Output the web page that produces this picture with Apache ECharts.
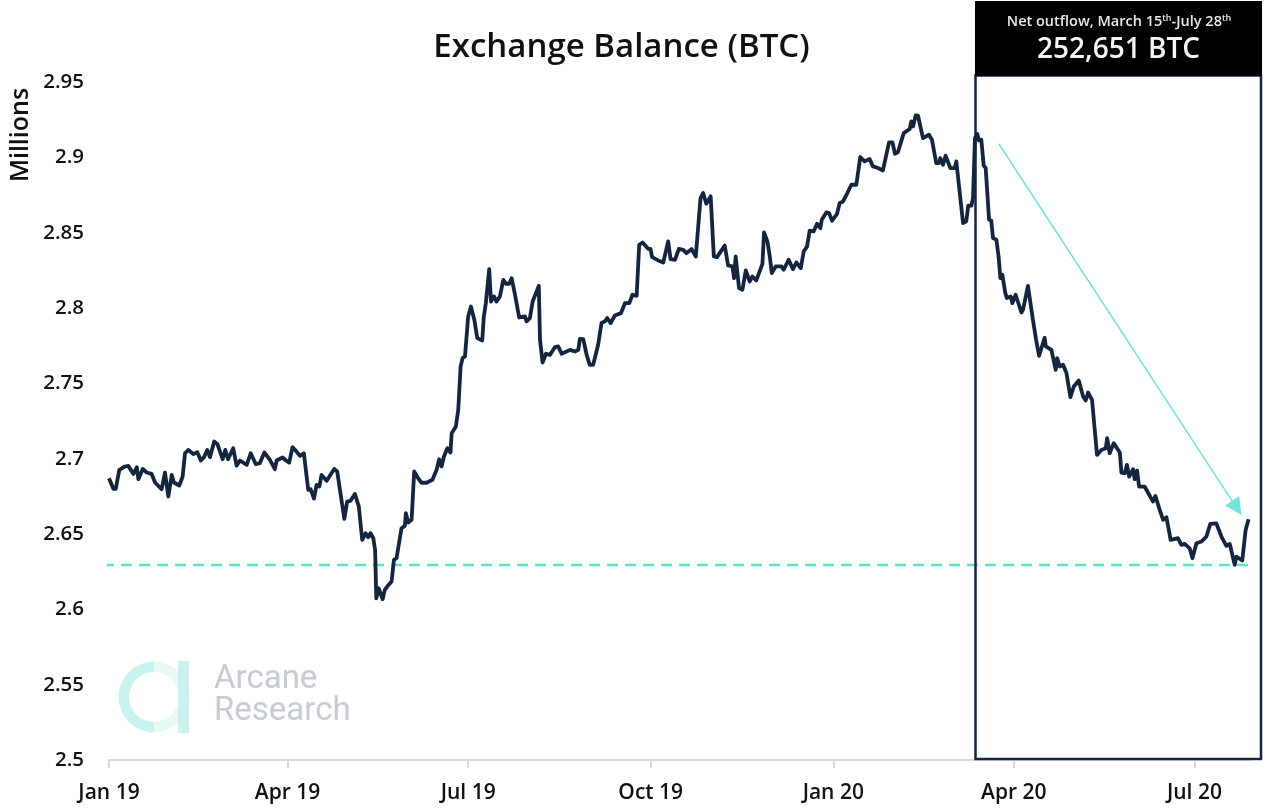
<!DOCTYPE html>
<html>
<head>
<meta charset="utf-8">
<style>html,body{margin:0;padding:0;background:#fff}#c{width:1265px;height:808px}</style>
<script src="https://cdn.jsdelivr.net/npm/echarts@6/dist/echarts.min.js"></script>
</head>
<body>
<div id="c"></div>
<script>
// days since 1 Jan 2019
const dayOffsets = [0,2.2,3.4,5.2,8,9.7,12.3,14,14.8,17,19,21.5,23.2,26.5,28.2,29.9,31.6,32.7,35.4,37.1,38.3,40,42.5,44.5,46.3,47.9,49.5,50.9,53,54.6,57.3,58.6,60,62.6,64.3,66,69.4,71.4,74,76,78.3,81.1,83.6,84.5,87.5,89.2,90.8,92.5,94.5,96.2,98.2,100.4,101.6,103.3,104.6,106,107.1,109.7,111.3,113.5,115,118.6,120,121.7,123.9,125.9,127.6,129.3,130.6,131.8,133.2,134.1,134.7,135.9,137.9,139,140.2,142.4,143.6,144.9,147.4,149.1,149.6,150.8,152.5,153.8,155.8,157.5,160,163,
165.1,166.4,167.6,168.8,170.5,172.1,172.7,174.8,176,177.2,178.2,179.4,181,182.4,184.1,185.6,188.1,188.9,189.9,191.6,192.5,194,195.3,197,198.7,200,201.7,202.9,204.6,206.7,209.6,210.4,212.1,213.5,216.6,217.2,218.5,220.2,222.2,224.7,226.4,228.1,230.6,232.3,234.8,236.5,237.3,239,240.7,242.3,244,246.5,248.2,249.9,251.1,252.8,254.9,258,260,262.2,263.8,265.9,267.2,268.9,271.7,272.9,273.7,276.8,279.3,281.8,283,285.2,287.2,289.4,291,293.6,295.7,298.1,299.4,301,303.2,304.8,306.4,
310.3,312,314.2,315,315.8,317.5,319.2,320.9,322.9,324.2,326.2,329.3,330.1,331.8,333,334,336,338.8,340,342.5,344.7,346.4,348.6,350.1,351.8,353.1,355.1,356.8,358.5,359.2,361.5,362.9,364.4,366.9,368.2,369.9,372.1,374.1,376.6,378.6,380.8,383.3,385,387.5,390,393.1,394.8,396.1,397.6,400.5,403.5,404.3,405.2,406.5,407.7,410.2,413.2,414.7,416.9,418.3,418.9,420.3,421.6,424,426.2,427,430.4,432,433,434.6,435.4,436.4,437.6,438.4,439.6,440.8,441.8,443.5,444.6,445.5,447.2,448.3,
449.2,450.2,451.7,452.5,454.4,455.2,456.9,459.8,460.6,463.1,465.6,467.2,468.7,471.5,472.1,474.9,477.1,477.8,479.1,480.8,482.5,484.5,486.2,488.7,490.9,492.2,493.4,495.4,497.9,500.1,502.3,503,504.3,506.3,509.4,510.2,511.9,513,514.1,516.1,516.9,518.1,519.1,521.9,526.1,527.3,529.5,531.2,532.9,535,538.7,540.4,542.1,544.6,546,548,550.5,553,555,558,560.6,563.1,564.8,567.3,568.1,571.1,572.8,574.3];
// exchange balance, millions of BTC
const balance = [2.687,2.680,2.680,2.6926,2.6948,2.6952,2.6899,2.6943,2.6864,2.6932,2.6908,2.6899,2.6842,2.6797,2.6908,2.6749,2.6892,2.6842,2.6822,2.6881,2.7036,2.7058,2.703,2.7043,2.6988,2.701,2.7058,2.701,2.7114,2.7098,2.6996,2.7058,2.6996,2.7069,2.6954,2.6988,2.6959,2.7036,2.6963,2.697,2.7041,2.6992,2.693,2.6988,2.7008,2.6988,2.6974,2.7076,2.7047,2.7019,2.7036,2.6793,2.6797,2.6735,2.6826,2.6815,2.6892,2.6853,2.6886,2.6932,2.6915,2.66,2.6715,2.672,2.6766,2.6682,2.6461,2.6505,2.6479,2.6505,2.6472,2.6394,2.6073,2.614,2.6067,2.6129,2.6151,2.6184,2.6328,2.6339,2.6538,2.6554,2.6638,2.6576,2.6594,2.6915,2.687,2.684,2.684,2.686,
2.6926,2.6996,2.6948,2.7014,2.7069,2.7041,2.7169,2.7213,2.7324,2.7612,2.7667,2.7678,2.7944,2.801,2.7922,2.78,2.7784,2.7944,2.8032,2.8258,2.8043,2.8077,2.8043,2.8077,2.8187,2.8161,2.8161,2.8198,2.8088,2.7937,2.7944,2.7911,2.7933,2.8043,2.8147,2.7789,2.7638,2.7696,2.7689,2.774,2.7745,2.7696,2.7711,2.7722,2.7711,2.7722,2.7795,2.7793,2.7689,2.7623,2.7623,2.7756,2.79,2.7911,2.7933,2.79,2.795,2.7966,2.8032,2.8032,2.8088,2.8081,2.842,2.8435,2.8393,2.8393,2.8338,2.8316,2.8302,2.8442,2.8324,2.832,2.8393,2.8386,2.8364,2.8391,2.8342,2.873,2.8763,2.8692,2.8741,2.8342,2.8338,
2.8415,2.8282,2.8276,2.8198,2.8342,2.8132,2.8121,2.8249,2.8176,2.8209,2.8183,2.8293,2.8502,2.8442,2.8342,2.8232,2.8276,2.8276,2.8254,2.832,2.8258,2.8302,2.8265,2.8375,2.8409,2.8513,2.8508,2.8559,2.853,2.8586,2.8634,2.863,2.8579,2.8625,2.8696,2.8707,2.8763,2.8818,2.8818,2.9002,2.8973,2.8989,2.894,2.8929,2.8913,2.9099,2.9099,2.9024,2.9035,2.9161,2.9188,2.9239,2.9205,2.9278,2.9276,2.9128,2.915,2.9117,2.8962,2.8962,2.8995,2.8951,2.9011,2.8929,2.8929,2.8973,2.8564,2.8575,2.8679,2.8679,2.873,2.9128,2.9155,2.9112,2.9117,2.8946,2.8929,2.8586,2.8581,2.8464,2.8453,2.8342,
2.8198,2.822,2.8099,2.8066,2.8077,2.8032,2.8088,2.797,2.7988,2.8147,2.7922,2.7789,2.7683,2.7802,2.7745,2.7722,2.759,2.7667,2.7612,2.7623,2.7568,2.7408,2.7479,2.7519,2.7413,2.7386,2.7439,2.739,2.7025,2.7058,2.7069,2.7136,2.7036,2.7103,2.7041,2.6908,2.6903,2.6959,2.6881,2.693,2.6864,2.6921,2.6815,2.6815,2.6715,2.6753,2.666,2.6594,2.6611,2.6461,2.6472,2.6428,2.6434,2.6405,2.6339,2.6439,2.645,2.6483,2.6567,2.6571,2.6483,2.6421,2.6434,2.6295,2.635,2.6324,2.6527,2.6598];
const tickDays = [0,90,181,273,365,456,547];
const tickLabels = ['Jan 19','Apr 19','Jul 19','Oct 19','Jan 20','Apr 20','Jul 20'];
const supportLevel = 2.6295;
const supportDays = [-3,575.5];
const trendStart = [448.4, 2.909];
const trendEnd = [568.3, 2.6673];

const NAVY = '#14263f', TEAL = '#5fdfd2';
const UI = '"Open Sans","Noto Sans",sans-serif';

const chart = echarts.init(document.getElementById('c'), null, {renderer:'canvas'});
chart.setOption({
  animation:false,
  backgroundColor:'#fff',
  grid:{left:109,right:15,top:82,bottom:48,containLabel:false},
  xAxis:{type:'value',min:0,max:575,
    axisLine:{show:true,onZero:false,lineStyle:{color:'#d9d9d9',width:2}},
    axisTick:{show:true,length:8,customValues:tickDays,lineStyle:{color:'#d9d9d9',width:2}},
    splitLine:{show:false},
    axisLabel:{customValues:tickDays,margin:23,hideOverlap:false,showMinLabel:true,showMaxLabel:true,
      formatter:v=>tickLabels[tickDays.indexOf(+v)]||'',
      fontFamily:UI,fontSize:21,fontWeight:600,color:'#111'}},
  yAxis:{type:'value',min:2.5,max:2.95,interval:0.05,
    axisLine:{show:false},axisTick:{show:false},splitLine:{show:false},
    axisLabel:{margin:25,padding:[2,0,0,0],fontFamily:UI,fontSize:20.5,fontWeight:600,color:'#111'}},
  graphic:[
    {type:'text',z:60,style:{x:621.5,y:47.5,align:'center',verticalAlign:'middle',text:'Exchange Balance (BTC)',
      fontFamily:UI,fontSize:33,fontWeight:600,fill:'#111'}},
    {type:'text',z:60,x:21,y:135,rotation:Math.PI/2,style:{x:0,y:0,align:'center',verticalAlign:'middle',text:'Millions',
      fontFamily:UI,fontSize:25,fontWeight:600,fill:'#111'}},
    {type:'rect',z:50,shape:{x:975.5,y:75.5,width:285.5,height:683.5},style:{fill:'none',stroke:NAVY,lineWidth:2.5}},
    {type:'rect',z:51,shape:{x:975,y:1,width:287,height:75},style:{fill:'#000'}},
    {type:'text',z:52,style:{x:1119,y:22,align:'center',verticalAlign:'middle',
      text:'{a|Net outflow, March 15}{s|th}{a|-July 28}{s|th}',
      rich:{a:{fontFamily:UI,fontSize:14.5,fontWeight:600,fill:'#e8e8e8'},
            s:{fontFamily:UI,fontSize:9,fontWeight:600,fill:'#e8e8e8',verticalAlign:'top',padding:[0,0,8,0]}}}},
    {type:'text',z:52,style:{x:1118.5,y:50.5,align:'center',verticalAlign:'middle',text:'252,651 BTC',
      fontFamily:UI,fontSize:28,fontWeight:600,fill:'#f4f4f4'}},
    {type:'sector',z:1,shape:{cx:154,cy:697,r:35.5,r0:25,startAngle:Math.PI/2,endAngle:Math.PI*1.5},style:{fill:'#c9f2ee'}},
    {type:'sector',z:1,shape:{cx:154,cy:697,r:35.5,r0:25,startAngle:-Math.PI/2,endAngle:Math.PI/2},style:{fill:'#e6f9f7'}},
    {type:'rect',z:2,shape:{x:178,y:661,width:11,height:72},style:{fill:'#c9f2ee'}},
    {type:'text',z:2,style:{x:214,y:680,verticalAlign:'middle',text:'Arcane',fontFamily:'Roboto',fontSize:33,fontWeight:400,fill:'#c6cbd4'}},
    {type:'text',z:2,style:{x:214,y:712,verticalAlign:'middle',text:'Research',fontFamily:'Roboto',fontSize:33,fontWeight:400,fill:'#c6cbd4'}}
  ],
  series:[
    {type:'line',name:'Support',data:supportDays.map(d=>[d,supportLevel]),clip:false,silent:true,
      showSymbol:false,symbol:'none',z:2,lineStyle:{color:TEAL,width:2.5,type:[11,7]}},
    {type:'line',name:'Exchange Balance',data:dayOffsets.map((d,i)=>[d,balance[i]]),
      showSymbol:false,symbol:'none',z:3,smooth:false,
      lineStyle:{color:NAVY,width:3.8,join:'round'},
      markLine:{silent:true,animation:false,symbol:['none','triangle'],symbolSize:17,precision:6,
        lineStyle:{color:'#74e2d8',width:1.5,type:'solid'},label:{show:false},
        data:[[{coord:trendStart},{coord:trendEnd}]]}}
  ]
});
</script>
</body>
</html>
